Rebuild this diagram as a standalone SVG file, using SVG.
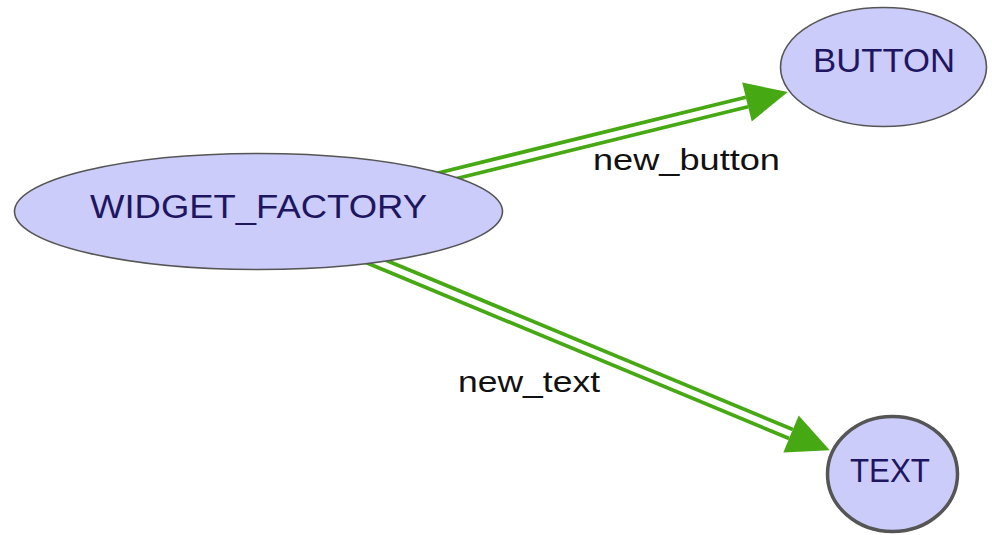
<svg xmlns="http://www.w3.org/2000/svg" width="992" height="535" viewBox="0 0 992 535">
  <style>
    .node { fill: #ccccfa; stroke: #555555; stroke-width: 1.6; }
    .node.bold { stroke-width: 3.5; }
    .nlabel { font-family: "Liberation Sans", Arial, sans-serif; font-size: 34px; fill: #1e1660; text-anchor: middle; }
    .elabel { font-family: "Liberation Sans", Arial, sans-serif; font-size: 30px; fill: #111111; }
    .rail { fill: none; stroke: #46a812; stroke-width: 13.5; }
    .gap { fill: none; stroke: #ffffff; stroke-width: 6; marker-end: url(#head); }
  </style>
  <defs>
    <marker id="head" markerUnits="userSpaceOnUse" markerWidth="44" markerHeight="42" refX="0" refY="20" orient="auto" overflow="visible">
      <path d="M0,0 L42,20 L0,40 Z" fill="#46a812"/>
    </marker>
  </defs>
  <rect width="992" height="535" fill="#ffffff"/>

  <g id="connectors">
    <g id="edge-new_button">
      <path class="rail" d="M430,180 L747,102"/>
      <path class="gap" d="M430,180 L747,102"/>
      <text class="elabel" x="593" y="170" textLength="187" lengthAdjust="spacingAndGlyphs">new_button</text>
    </g>
    <g id="edge-new_text">
      <path class="rail" d="M363,256 L791,434"/>
      <path class="gap" d="M363,256 L791,434"/>
      <text class="elabel" x="458" y="392" textLength="142" lengthAdjust="spacingAndGlyphs">new_text</text>
    </g>
  </g>

  <g id="WIDGET_FACTORY">
    <ellipse class="node" cx="258.5" cy="211.5" rx="244" ry="58"/>
    <text class="nlabel" x="258.5" y="218" textLength="337" lengthAdjust="spacingAndGlyphs">WIDGET_FACTORY</text>
  </g>
  <g id="BUTTON">
    <ellipse class="node" cx="883.5" cy="67" rx="103" ry="59.5"/>
    <text class="nlabel" x="884" y="72" textLength="142" lengthAdjust="spacingAndGlyphs">BUTTON</text>
  </g>
  <g id="TEXT">
    <ellipse class="node bold" cx="892.5" cy="474" rx="65" ry="57.5"/>
    <text class="nlabel" x="890" y="482" textLength="80" lengthAdjust="spacingAndGlyphs">TEXT</text>
  </g>
</svg>
